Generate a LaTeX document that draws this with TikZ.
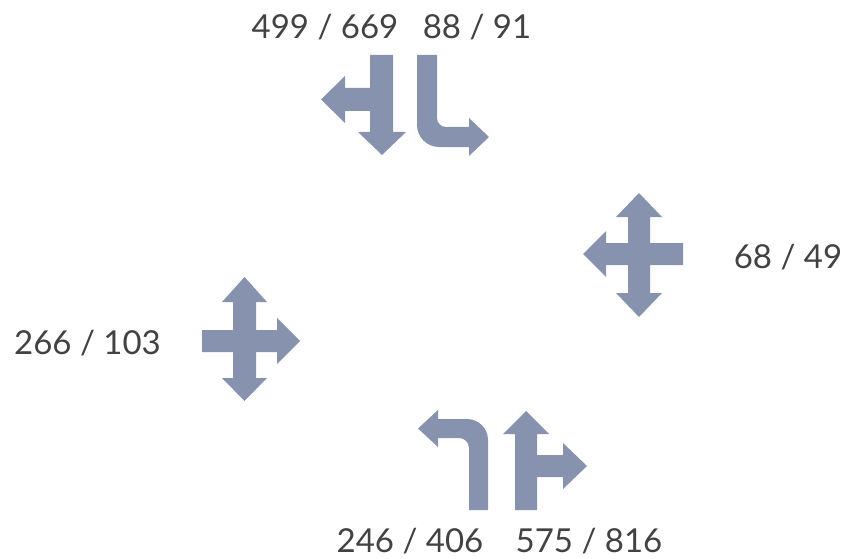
\documentclass[tikz,border=0pt]{standalone}
\usepackage{fontspec}
\setmainfont{Lato}
\definecolor{arrowc}{RGB}{135,147,174}
\definecolor{txtc}{RGB}{66,66,66}
\tikzset{
  arr/.style={fill=arrowc, draw=none},
  lbl/.style={anchor=base, inner sep=0pt, text=txtc, font=\fontsize{33}{40}\selectfont}
}
\begin{document}
\begin{tikzpicture}[x=1pt,y=-1pt]
\useasboundingbox (0,0) rectangle (848,559);
% top-left: down + left
\fill[arr] (370,55) -- (393,55) -- (393,132) -- (406,132) -- (382,155) -- (358,132) -- (370,132) -- (370,111) -- (345,111) -- (345,123) -- (321,99.5) -- (345,76) -- (345,88) -- (370,88) -- cycle;
% top-right: down turning right
\fill[arr] (417,55) -- (437,55) -- (437,118) .. controls (437,123) and (441,127) .. (446,127) -- (469,127) -- (469,118) -- (489,137) -- (469,156) -- (469,147) -- (439,147) .. controls (426.9,147) and (417,137.1) .. (417,125) -- cycle;
% right cross: up, left, down
\fill[arr] (639,193) -- (662,217) -- (650,217) -- (650,243) -- (683,243) -- (683,265) -- (650,265) -- (650,293) -- (662,293) -- (639,317) -- (616,293) -- (628,293) -- (628,265) -- (606,265) -- (606,277) -- (583,254) -- (606,231) -- (606,243) -- (628,243) -- (628,217) -- (616,217) -- cycle;
% left cross: up, right, down
\fill[arr] (244.5,277) -- (267,302) -- (256,302) -- (256,330) -- (277,330) -- (277,318) -- (300,341) -- (277,364) -- (277,352) -- (256,352) -- (256,378) -- (267,378) -- (244.5,401) -- (222,378) -- (233,378) -- (233,352) -- (202,352) -- (202,330) -- (233,330) -- (233,302) -- (222,302) -- cycle;
% bottom-left: up turning left
\fill[arr] (469,510) -- (488,510) -- (488,440) .. controls (488,428.4) and (478.6,419) .. (467,419) -- (438,419) -- (438,410) -- (418,428.5) -- (438,447) -- (438,438) -- (459,438) .. controls (464.5,438) and (469,442.5) .. (469,448) -- cycle;
% bottom-right: up + right
\fill[arr] (515,510) -- (515,434) -- (503,434) -- (526,411) -- (549,434) -- (537,434) -- (537,455) -- (563,455) -- (563,443) -- (587,466) -- (563,489) -- (563,477) -- (537,477) -- (537,510) -- cycle;
% labels
\node[lbl] (l1) at (325,39) {499 / 669};
\node[lbl] (l2) at (477,39) {88 / 91};
\node[lbl] (l3) at (788,268) {68 / 49};
\node[lbl] (l4) at (87.5,354) {266 / 103};
\node[lbl] (l5) at (410,552) {246 / 406};
\node[lbl] (l6) at (589,552) {575 / 816};
\end{tikzpicture}
\end{document}
